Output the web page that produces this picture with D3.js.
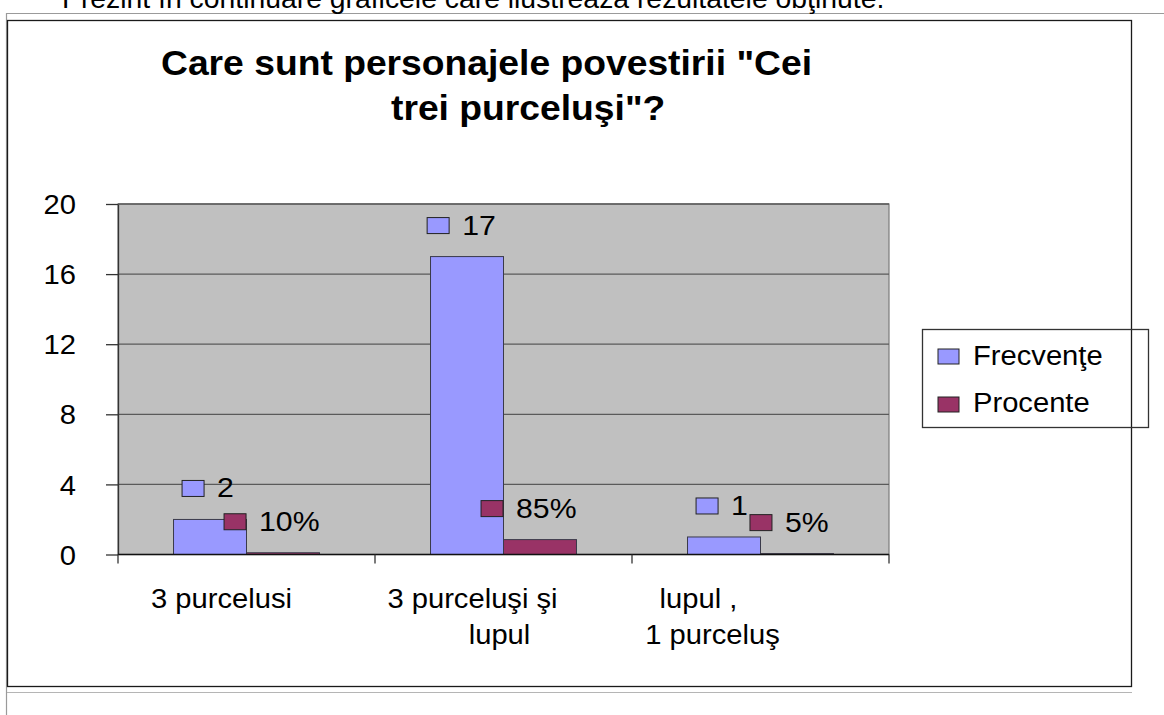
<!DOCTYPE html>
<html>
<head>
<meta charset="utf-8">
<script src="https://cdn.jsdelivr.net/npm/d3@7"></script>
<style>
    body { margin: 0; background: #fff; }
    svg { display: block; }
    text { font-family: "Liberation Sans", Arial, sans-serif; fill: #000; }
</style>
</head>
<body>
<svg width="1164" height="715"></svg>
<script>
// chart data
var categories = ["3 purcelusi", "3 purceluşi şi lupul", "lupul , 1 purceluş"];
var categoryLines = [["3 purcelusi"], ["3 purceluşi şi", "lupul"], ["lupul ,", "1 purceluş"]];
var seriesNames = ["Frecvenţe", "Procente"];
var frecvente = [2, 17, 1];
var procente = [0.10, 0.85, 0.05];
var frecventeLabels = ["2", "17", "1"];
var procenteLabels = ["10%", "85%", "5%"];
var yTicks = [0, 4, 8, 12, 16, 20];
var titleLines = ["Care sunt personajele povestirii \"Cei", "trei purceluşi\"?"];
var introText = "Prezint în continuare graficele care ilustrează rezultatele obţinute.";

var colors = ["#9999FF", "#993366"];
var SX = 1.08; // the picture is a bit wider than it is tall

var svg = d3.select("svg");

function stext(parent, x, y, str, size, anchor) {
    return parent.append("text")
        .attr("transform", "translate(" + x + "," + y + ") scale(" + SX + ",1)")
        .attr("font-size", size)
        .attr("text-anchor", anchor || "start")
        .text(str);
}

// page lines behind the chart
svg.append("line").attr("x1", 6).attr("x2", 1164).attr("y1", 13.5).attr("y2", 13.5)
    .attr("stroke", "#9a9a9a").attr("stroke-width", 1.2);
svg.append("line").attr("x1", 6.5).attr("x2", 6.5).attr("y1", 13).attr("y2", 715)
    .attr("stroke", "#9a9a9a").attr("stroke-width", 1.2);
svg.append("line").attr("x1", 7).attr("x2", 1132).attr("y1", 692.5).attr("y2", 692.5)
    .attr("stroke", "#b5b5b5").attr("stroke-width", 1.2);

svg.append("text")
    .attr("transform", "translate(62,8) scale(1.05,1)")
    .attr("font-family", "'Liberation Serif', 'Times New Roman', serif")
    .attr("font-size", 27)
    .text(introText);

// chart frame
svg.append("rect")
    .attr("x", 7.5).attr("y", 20.5).attr("width", 1124).attr("height", 666)
    .attr("fill", "#fff").attr("stroke", "#1a1a1a").attr("stroke-width", 1.3);

// title
stext(svg, 161, 75, titleLines[0], 34.5).attr("font-weight", "bold");
stext(svg, 391, 120, titleLines[1], 34.5).attr("font-weight", "bold");

var plotLeft = 118, plotRight = 889, plotTop = 204, plotBottom = 554.5;

var x0 = d3.scaleBand()
    .domain(categories)
    .range([plotLeft, plotRight])
    .paddingInner(0.432)
    .paddingOuter(0.216);

var x1 = d3.scaleBand()
    .domain(seriesNames)
    .range([0, x0.bandwidth()]);

var y = d3.scaleLinear()
    .domain([0, 20])
    .range([plotBottom, plotTop]);

// plot area
svg.append("rect")
    .attr("x", plotLeft).attr("y", plotTop)
    .attr("width", plotRight - plotLeft).attr("height", plotBottom - plotTop)
    .attr("fill", "#C0C0C0").attr("stroke", "#7a7a7a").attr("stroke-width", 1.2);

svg.append("g")
    .selectAll("line")
    .data(yTicks.slice(1))
    .enter().append("line")
    .attr("x1", plotLeft).attr("x2", plotRight)
    .attr("y1", function(d) { return y(d); })
    .attr("y2", function(d) { return y(d); })
    .attr("stroke", "#5a5a5a").attr("stroke-width", 1.3);

// y axis
var yAxis = svg.append("g")
    .attr("transform", "translate(" + plotLeft + ",0)")
    .call(d3.axisLeft(y).tickValues(yTicks).tickSize(12).tickSizeOuter(0));
yAxis.select(".domain").attr("stroke", "#333").attr("stroke-width", 1.3);
yAxis.selectAll(".tick line").attr("stroke", "#333").attr("stroke-width", 1.3);
yAxis.selectAll(".tick text").remove();
yAxis.selectAll(".tick").each(function(d) {
    stext(d3.select(this), -42, 9.6, d, 27, "end");
});

// bars
var series = [frecvente, procente];
var seriesLabels = [frecventeLabels, procenteLabels];
var bars = [];
series.forEach(function(vals, s) {
    vals.forEach(function(v, i) {
        bars.push({ cat: categories[i], s: s, value: v, label: seriesLabels[s][i] });
    });
});

svg.append("g")
    .selectAll("rect")
    .data(bars)
    .enter().append("rect")
    .attr("x", function(d) { return x0(d.cat) + x1(seriesNames[d.s]); })
    .attr("y", function(d) { return y(d.value); })
    .attr("width", x1.bandwidth())
    .attr("height", function(d) { return y(0) - y(d.value); })
    .attr("fill", function(d) { return colors[d.s]; })
    .attr("stroke", "#3a3a4a").attr("stroke-width", 1);

// x axis
svg.append("line")
    .attr("x1", plotLeft).attr("x2", plotRight)
    .attr("y1", plotBottom).attr("y2", plotBottom)
    .attr("stroke", "#111").attr("stroke-width", 1.4);

svg.append("g")
    .selectAll("line")
    .data(d3.range(categories.length + 1))
    .enter().append("line")
    .attr("x1", function(i) { return plotLeft + i * x0.step(); })
    .attr("x2", function(i) { return plotLeft + i * x0.step(); })
    .attr("y1", plotBottom).attr("y2", plotBottom + 9)
    .attr("stroke", "#333").attr("stroke-width", 1.3);

// category labels (each line sits a little left of the slot centre, as in the original)
var lineShift = [[-25], [-31, -4], [-62, -48]];
var catLabels = svg.append("g");
categoryLines.forEach(function(lines, i) {
    var cx = plotLeft + (i + 0.5) * x0.step();
    lines.forEach(function(str, j) {
        stext(catLabels, cx + lineShift[i][j], 608 + j * 36, str, 27, "middle");
    });
});

// data labels with legend keys
var dl = svg.append("g");
bars.forEach(function(d) {
    var cx = x0(d.cat) + x1(seriesNames[d.s]) + x1.bandwidth() / 2;
    var top = y(d.value);
    var t = stext(dl, 0, 0, d.label, 28);
    var w = t.node().getComputedTextLength() * SX;
    var left = cx - 16 - 0.71 * w;
    t.attr("transform", "translate(" + (left + 35) + "," + (top - 22) + ") scale(" + SX + ",1)");
    dl.append("rect")
        .attr("x", left).attr("y", top - 39)
        .attr("width", 22).attr("height", 16)
        .attr("fill", colors[d.s]).attr("stroke", "#222").attr("stroke-width", 1);
});

// legend
var legend = svg.append("g");
legend.append("rect")
    .attr("x", 922.5).attr("y", 329.5).attr("width", 226).attr("height", 98)
    .attr("fill", "none").attr("stroke", "#333").attr("stroke-width", 1.3);
seriesNames.forEach(function(name, i) {
    legend.append("rect")
        .attr("x", 938).attr("y", 349 + i * 48)
        .attr("width", 21).attr("height", 15)
        .attr("fill", colors[i]).attr("stroke", "#222").attr("stroke-width", 1);
    stext(legend, 973, 365 + i * 47, name, 27);
});
</script>
</body>
</html>
